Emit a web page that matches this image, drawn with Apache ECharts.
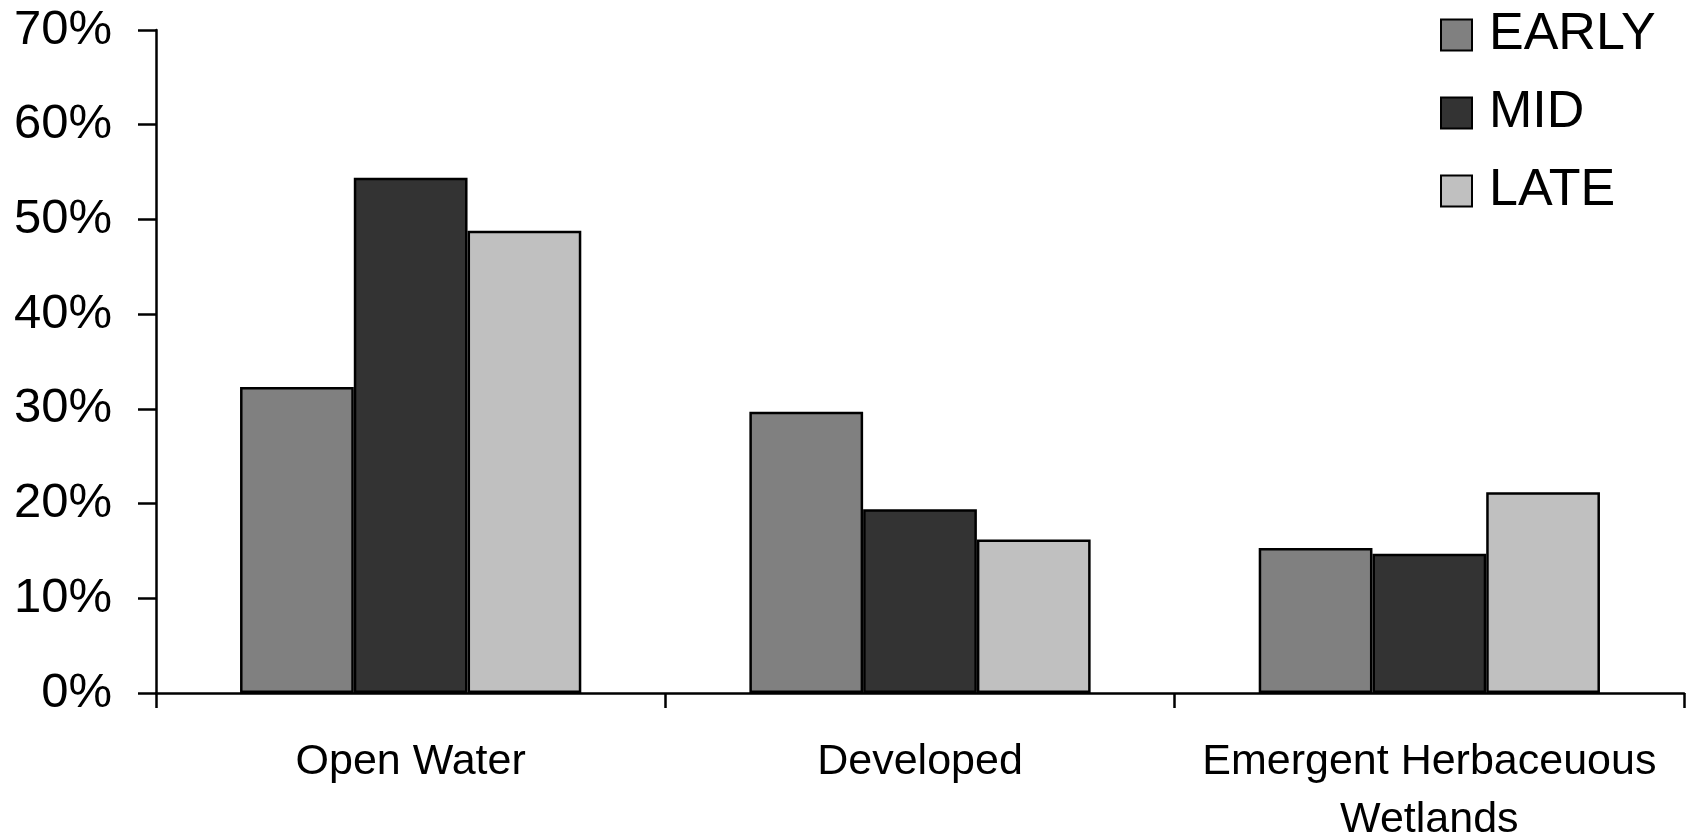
<!DOCTYPE html>
<html>
<head>
<meta charset="utf-8">
<title>Land cover share by period</title>
<script src="https://cdn.jsdelivr.net/npm/echarts@6/dist/echarts.min.js"></script>
<style>
  html, body { margin: 0; padding: 0; background: #ffffff; }
  #chart { width: 1690px; height: 836px; }
</style>
</head>
<body>
<div id="chart"></div>
<script>
// Land cover categories (x axis)
const categories = ['Open Water', 'Developed', 'Emergent Herbaceuous\nWetlands'];

// Share of each land cover class, in percent, per period
const early = [32.3, 29.7, 15.3];
const mid   = [54.4, 19.4, 14.7];
const late  = [48.8, 16.2, 21.2];

// Y axis range and step, in percent
const yMin = 0;
const yMax = 70;
const yStep = 10;

const FONT = '"Liberation Sans", Arial, sans-serif';

const chart = echarts.init(document.getElementById('chart'), null, { renderer: 'canvas' });

function barSeries(name, data, color) {
  return {
    name: name,
    type: 'bar',
    data: data,
    barGap: '0%',
    barCategoryGap: '33%',
    itemStyle: { color: color, borderColor: '#000000', borderWidth: 2.5 },
    emphasis: { disabled: true },
    animation: false
  };
}

chart.setOption({
  animation: false,
  backgroundColor: '#ffffff',
  grid: {
    left: 156, right: 6, top: 30, bottom: 143,
    containLabel: false,
    outerBoundsMode: 'none'
  },
  legend: {
    orient: 'vertical',
    left: 1435,
    top: 4,
    itemWidth: 31,
    itemHeight: 31,
    itemGap: 26,
    icon: 'rect',
    selectedMode: false,
    textStyle: { fontFamily: FONT, fontSize: 52, color: '#000000', padding: [0, 0, 0, 12] },
    data: ['EARLY', 'MID', 'LATE']
  },
  xAxis: {
    type: 'category',
    data: categories,
    axisLine: { lineStyle: { color: '#000000', width: 2.5 } },
    axisTick: { show: true, length: 15, lineStyle: { color: '#000000', width: 2.5 } },
    axisLabel: {
      interval: 0,
      margin: 40,
      fontFamily: FONT,
      fontSize: 43,
      lineHeight: 58,
      color: '#000000'
    },
    splitLine: { show: false }
  },
  yAxis: {
    type: 'value',
    min: yMin,
    max: yMax,
    interval: yStep,
    axisLine: { show: true, lineStyle: { color: '#000000', width: 2.5 } },
    axisTick: { show: true, length: 18, lineStyle: { color: '#000000', width: 2.5 } },
    axisLabel: {
      margin: 44,
      formatter: '{value}%',
      fontFamily: FONT,
      fontSize: 49,
      color: '#000000'
    },
    splitLine: { show: false }
  },
  series: [
    barSeries('EARLY', early, '#808080'),
    barSeries('MID', mid, '#333333'),
    barSeries('LATE', late, '#c0c0c0')
  ]
});
</script>
</body>
</html>
